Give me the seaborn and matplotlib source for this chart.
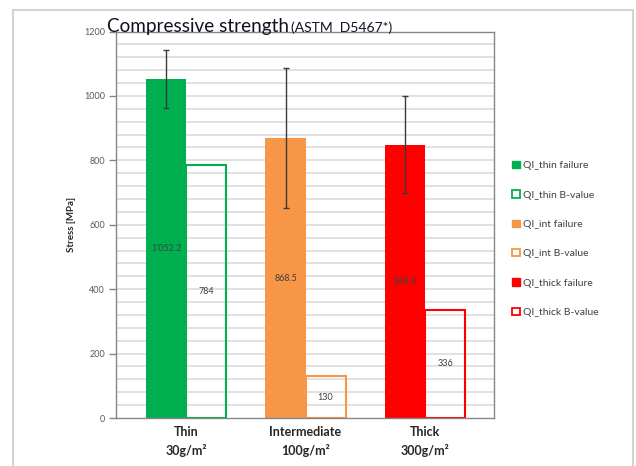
import matplotlib
matplotlib.use("Agg")
import matplotlib.pyplot as plt
from matplotlib.patches import Patch, Rectangle
import numpy as np
import pandas as pd
import seaborn as sns

# data
categories = ["Thin\n30g/m²", "Intermediate\n100g/m²", "Thick\n300g/m²"]
failure = [1052.2, 868.5, 848.4]
failure_err = [89, 217, 150]
b_value = [784, 130, 336]
failure_labels = ["1'052.2", "868.5", "848.4"]
b_labels = ["784", "130", "336"]
series_fail = ["QI_thin failure", "QI_int failure", "QI_thick failure"]
series_b = ["QI_thin B-value", "QI_int B-value", "QI_thick B-value"]
colors = ["#00B050", "#F79646", "#FF0000"]

sns.set_theme(style="white")
plt.rcParams["font.family"] = ["Lato", "DejaVu Sans"]

fig = plt.figure(figsize=(6.36, 4.66), dpi=100)
ax = fig.add_axes([0.1824, 0.103, 0.5943, 0.8294])

# chart frame
fig.patches.append(Rectangle((13 / 636, -0.05), 620 / 636, 1 - 10 / 466 + 0.05,
                             transform=fig.transFigure, fill=False,
                             edgecolor="#D4D4D4", lw=1.5))

bw = 0.335
pos = np.arange(len(categories))
df_f = pd.DataFrame({"x": pos - bw / 2, "y": failure, "s": series_fail})
df_b = pd.DataFrame({"x": pos + bw / 2, "y": b_value, "s": series_b})

# gridlines every 40
for v in np.arange(40, 1200, 40):
    ax.axhline(v, color="#D9D9D9", lw=1.1, zorder=0)

sns.barplot(data=df_f, x="x", y="y", hue="s", palette=colors, saturation=1,
            native_scale=True, width=bw, dodge=False, errorbar=None,
            legend=False, ax=ax, zorder=2, linewidth=0)
sns.barplot(data=df_b, x="x", y="y", hue="s", palette=colors, saturation=1,
            native_scale=True, width=bw, dodge=False, errorbar=None,
            legend=False, ax=ax, fill=False, linewidth=1.5, zorder=2)

ax.errorbar(pos - bw / 2, failure, yerr=failure_err, fmt="none",
            ecolor="#3A3A3A", elinewidth=1, capsize=2.5, capthick=1, zorder=3)

for i in range(len(categories)):
    ax.text(pos[i] - bw / 2, failure[i] / 2, failure_labels[i], ha="center",
            va="center", fontsize=6.5, color="#404040", zorder=4)
    ax.text(pos[i] + bw / 2, b_value[i] / 2, b_labels[i], ha="center",
            va="center", fontsize=6.5, color="#404040", zorder=4)

ax.set_xlim(-0.586, 2.577)
ax.set_ylim(0, 1200)
ax.set_yticks(np.arange(0, 1201, 200))
ax.set_xticks(pos)
ax.set_xticklabels(categories, fontsize=9, fontweight="bold", color="#262626",
                   linespacing=1.5)
ax.tick_params(axis="y", labelsize=6.5, labelcolor="#595959", left=True,
               length=5, color="#868686", width=1, pad=3)
ax.tick_params(axis="x", length=0, pad=6)
ax.set_xlabel("")
ax.set_ylabel("Stress [MPa]", fontsize=7, fontweight="bold", color="#262626",
              labelpad=6)
for sp in ax.spines.values():
    sp.set_color("#868686")
    sp.set_linewidth(1)
    sp.set_visible(True)

t1 = fig.text(107 / 636, 1 - 32 / 466, "Compressive strength", fontsize=13.6,
              color="#111122", ha="left", va="baseline")
fig.canvas.draw()
bb = t1.get_window_extent()
fig.text(bb.x1 / 636 + 2 / 636, 1 - 32 / 466, "(ASTM  D5467*)", fontsize=10,
         color="#111122", ha="left", va="baseline")

handles = []
labels = []
for c, sf, sb in zip(colors, series_fail, series_b):
    handles.append(Patch(facecolor=c, edgecolor=c))
    labels.append(sf)
    handles.append(Patch(facecolor="white", edgecolor=c, lw=1.3))
    labels.append(sb)
fig.legend(handles, labels, loc="center left", bbox_to_anchor=(503 / 636, 1 - 239 / 466),
           frameon=False, fontsize=7.5, labelcolor="#404040", handlelength=0.7,
           handleheight=0.7, handletextpad=0.3, labelspacing=1.93)

fig.savefig("out.png", dpi=100)
